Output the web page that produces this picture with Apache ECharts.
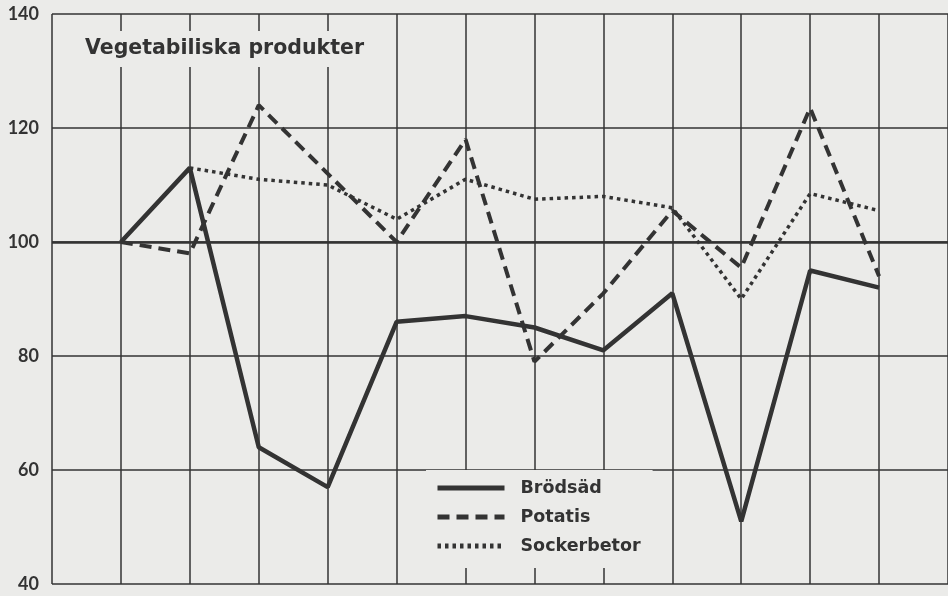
<!DOCTYPE html>
<html>
<head>
<meta charset="utf-8">
<script src="https://cdn.jsdelivr.net/npm/echarts@6/dist/echarts.min.js"></script>
<style>
  html, body { margin: 0; padding: 0; background: #ebebe9; }
  #chart { width: 948px; height: 596px; }
</style>
</head>
<body>
<div id="chart"></div>
<script>
// positions along the x axis (vertical grid lines 0..13, points on 1..12)
const periods = [1, 2, 3, 4, 5, 6, 7, 8, 9, 10, 11, 12];

const brodsad = [100, 113, 64, 57, 86, 87, 85, 81, 91, 51, 95, 92];
const potatis = [100, 98, 124, 112, 100, 118, 79, 91, 105.5, 95.5, 123.5, 94];
const sockerbetor = [null, 113, 111, 110, 104, 111, 107.5, 108, 106, 90, 108.5, 105.5];

const yTicks = [40, 60, 80, 100, 120, 140];

const ink = '#333333';
const paper = '#ebebe9';

function pairs(values) {
    return periods.map((p, i) => [p, values[i]]);
}

let chart = echarts.init(document.getElementById('chart'));
chart.setOption({
    backgroundColor: paper,
    animation: false,
    title: {
        text: 'Vegetabiliska produkter',
        left: 78,
        top: 31,
        padding: [7, 8, 8, 7],
        backgroundColor: paper,
        textStyle: { fontFamily: 'DejaVu Sans', fontWeight: 'bold', fontSize: 20.5, color: ink }
    },
    legend: {
        orient: 'vertical',
        left: 426,
        top: 470,
        padding: [9, 12, 13, 9],
        backgroundColor: paper,
        itemWidth: 67,
        itemHeight: 18,
        itemGap: 11,
        itemStyle: { opacity: 0 },
        lineStyle: { width: 5 },
        textStyle: {
            fontFamily: 'DejaVu Sans', fontWeight: 'bold', fontSize: 17.5, color: ink,
            padding: [0, 0, 0, 11]
        },
        data: ['Brödsäd', 'Potatis', 'Sockerbetor']
    },
    grid: { left: 52, right: 0, top: 14, bottom: 12 },
    xAxis: {
        type: 'value',
        min: 0,
        max: 13,
        interval: 1,
        axisLine: { show: false },
        axisTick: { show: false },
        axisLabel: { show: false },
        splitLine: { show: true, lineStyle: { color: ink, width: 1.5 } }
    },
    yAxis: {
        type: 'value',
        min: yTicks[0],
        max: yTicks[yTicks.length - 1],
        interval: 20,
        axisLine: { show: false },
        axisTick: { show: false },
        axisLabel: {
            margin: 13,
            fontFamily: 'Lato',
            fontWeight: 'bold',
            fontSize: 18,
            color: ink
        },
        splitLine: { show: true, lineStyle: { color: ink, width: 1.5 } }
    },
    series: [
        {
            name: 'Brödsäd',
            type: 'line',
            data: pairs(brodsad),
            symbol: 'none',
            itemStyle: { color: ink },
            lineStyle: { color: ink, width: 4.5, type: 'solid' },
            markLine: {
                silent: true,
                symbol: 'none',
                label: { show: false },
                lineStyle: { color: ink, width: 2.5, type: 'solid' },
                data: [{ yAxis: 100 }]
            }
        },
        {
            name: 'Potatis',
            type: 'line',
            data: pairs(potatis),
            symbol: 'none',
            itemStyle: { color: ink },
            lineStyle: { color: ink, width: 4, type: [12, 7] }
        },
        {
            name: 'Sockerbetor',
            type: 'line',
            data: pairs(sockerbetor),
            symbol: 'none',
            itemStyle: { color: ink },
            lineStyle: { color: ink, width: 3.5, type: [3.5, 4] }
        }
    ]
});
</script>
</body>
</html>
